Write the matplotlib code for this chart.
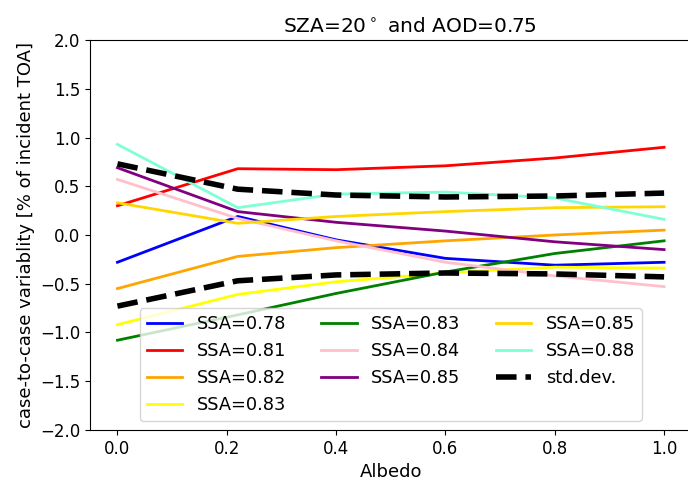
import numpy as np
import matplotlib
matplotlib.use('Agg')
import matplotlib.pyplot as plt

albedo = [0.0, 0.22, 0.4, 0.6, 0.8, 1.0]

ssa_labels = ['SSA=0.78', 'SSA=0.81', 'SSA=0.82', 'SSA=0.83', 'SSA=0.83',
              'SSA=0.84', 'SSA=0.85', 'SSA=0.85', 'SSA=0.88']
colors = ['blue', 'red', 'orange', 'yellow', 'green',
          'pink', 'purple', 'gold', 'aquamarine']

ssa078 = [-0.28, 0.19, -0.05, -0.24, -0.31, -0.28]
ssa081 = [0.30, 0.68, 0.67, 0.71, 0.79, 0.90]
ssa082 = [-0.55, -0.22, -0.13, -0.06, 0.00, 0.05]
ssa083a = [-0.92, -0.61, -0.48, -0.39, -0.33, -0.34]
ssa083b = [-1.08, -0.82, -0.60, -0.38, -0.19, -0.06]
ssa084 = [0.57, 0.17, -0.06, -0.28, -0.42, -0.53]
ssa085a = [0.69, 0.24, 0.13, 0.04, -0.07, -0.15]
ssa085b = [0.33, 0.12, 0.19, 0.24, 0.28, 0.29]
ssa088 = [0.93, 0.28, 0.42, 0.44, 0.38, 0.16]
std_dev = [0.73, 0.47, 0.41, 0.39, 0.40, 0.43]

series = [ssa078, ssa081, ssa082, ssa083a, ssa083b,
          ssa084, ssa085a, ssa085b, ssa088]

fig = plt.figure(figsize=(6.88, 4.83), dpi=100)
ax = fig.add_subplot(111)
# right spine falls just outside the picture, like the reference
fig.subplots_adjust(left=0.131, right=1.005, top=0.917, bottom=0.110)

for vals, lab, c in zip(series, ssa_labels, colors):
    ax.plot(albedo, vals, color=c, lw=2, label=lab)

sd = np.array(std_dev)
ax.plot(albedo, sd, 'k--', lw=4, label='std.dev.')
ax.plot(albedo, -sd, 'k--', lw=4)

ax.set_ylim(-2, 2)
ax.set_xlim(-0.05, 1.05)
ax.tick_params(labelsize=12)
ax.set_xlabel('Albedo', fontsize=13)
ax.set_ylabel('case-to-case variablity [% of incident TOA]', fontsize=13)
ax.set_title(r'SZA=20$^\circ$ and AOD=0.75', fontsize=14.5, x=0.532)
ax.legend(ncol=3, loc='lower center', fontsize=12.8)

plt.savefig('out.png')
